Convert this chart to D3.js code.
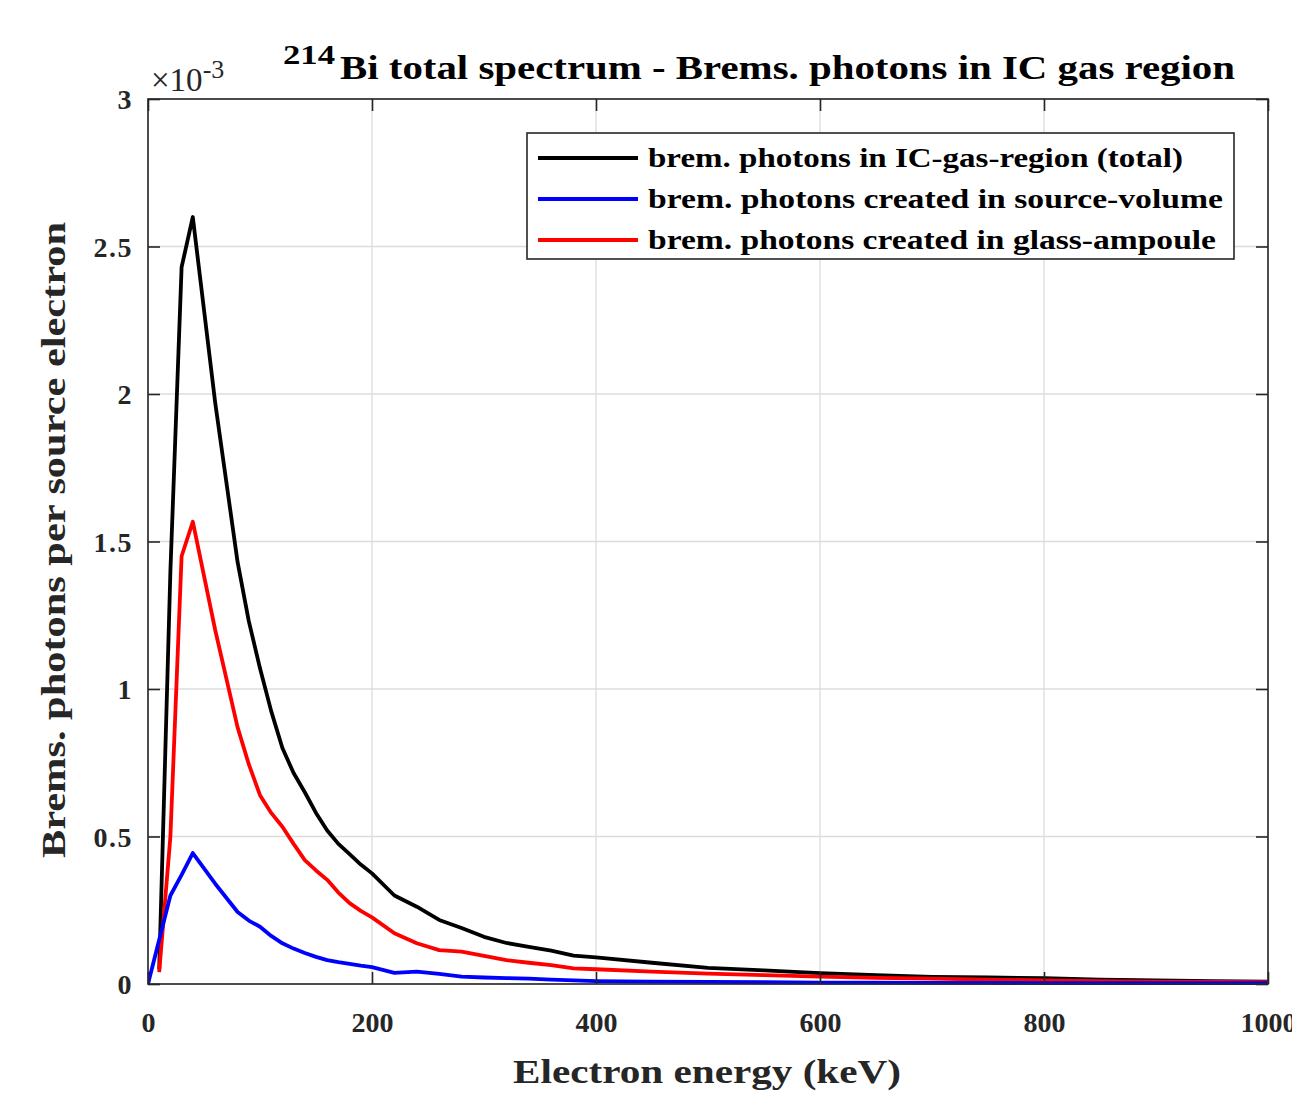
<!DOCTYPE html>
<html><head><meta charset="utf-8">
<script src="https://cdn.jsdelivr.net/npm/d3@7"></script>
<style>body{margin:0;background:#fff}svg{display:block}</style>
</head><body><svg id="c" width="1292" height="1097"></svg>
<script>
const energy = [0,10,20,30,40,60,80,90,100,110,120,130,140,150,160,170,180,190,200,220,240,260,280,300,320,340,360,380,400,450,500,550,600,650,700,750,800,850,900,950,1000];
const totalBrems = [null,0.05,1.40,2.43,2.60,1.97,1.43,1.23,1.07,0.925,0.80,0.715,0.65,0.58,0.52,0.475,0.44,0.405,0.375,0.30,0.262,0.217,0.19,0.16,0.139,0.126,0.113,0.096,0.09,0.072,0.055,0.046,0.037,0.030,0.024,0.022,0.020,0.015,0.012,0.010,0.008];
const sourceBrems = [0,0.15,0.30,0.37,0.444,0.34,0.244,0.215,0.194,0.163,0.138,0.12,0.105,0.092,0.081,0.074,0.068,0.062,0.057,0.038,0.042,0.034,0.025,0.022,0.020,0.018,0.015,0.012,0.010,0.008,0.007,0.006,0.005,0.005,0.004,0.004,0.003,0.003,0.003,0.003,0.003];
const glassBrems = [null,0.04,0.50,1.45,1.567,1.20,0.87,0.745,0.64,0.58,0.533,0.475,0.42,0.385,0.353,0.31,0.274,0.248,0.226,0.172,0.138,0.115,0.11,0.095,0.081,0.072,0.064,0.053,0.05,0.042,0.035,0.030,0.025,0.021,0.018,0.015,0.012,0.010,0.008,0.007,0.006];
const xTicks = [0,200,400,600,800,1000];
const yTicks = [0,0.5,1,1.5,2,2.5,3];
const seriesNames = ["brem. photons in IC-gas-region (total)","brem. photons created in source-volume","brem. photons created in glass-ampoule"];
const seriesColors = ["#000000","#0000ff","#ff0000"];

const L=148,R=1268,T=99,B=984;
const FONT='"Liberation Serif", serif';
const svg=d3.select("#c");
svg.append("rect").attr("width",1292).attr("height",1097).attr("fill","#fff");
const x=d3.scaleLinear().domain([0,1000]).range([L,R]);
const y=d3.scaleLinear().domain([0,3]).range([B,T]);

// grid
const g=svg.append("g");
g.selectAll(".gx").data(xTicks).join("line").attr("x1",d=>x(d)).attr("x2",d=>x(d)).attr("y1",T).attr("y2",B).attr("stroke","#dcdcdc").attr("stroke-width",1.3);
g.selectAll(".gy").data(yTicks).join("line").attr("y1",d=>y(d)).attr("y2",d=>y(d)).attr("x1",L).attr("x2",R).attr("stroke","#dcdcdc").attr("stroke-width",1.3);

// lines
const series=[totalBrems,sourceBrems,glassBrems];
svg.append("clipPath").attr("id","pc").append("rect").attr("x",L).attr("y",T).attr("width",R-L+2).attr("height",B-T+2);
const order=[0,2,1];
order.forEach(i=>{
  const data=energy.map((e,k)=>[e,series[i][k]]);
  const line=d3.line().defined(d=>d[1]!=null).x(d=>x(d[0])).y(d=>y(d[1]));
  svg.append("path").attr("d",line(data)).attr("fill","none").attr("stroke",seriesColors[i]).attr("stroke-width",3.8).attr("stroke-linejoin","round").attr("clip-path","url(#pc)");
});

// axes box and ticks
const ax="#262626";
const xb=d3.axisBottom(x).tickValues(xTicks).tickSize(-12).tickFormat(d=>d);
const xa=svg.append("g").attr("transform",`translate(0,${B})`).call(xb);
const xt=d3.axisTop(x).tickValues(xTicks).tickSize(-12).tickFormat("");
const xta=svg.append("g").attr("transform",`translate(0,${T})`).call(xt);
const yl=d3.axisLeft(y).tickValues(yTicks).tickSize(-12).tickFormat(d=>d);
const ya=svg.append("g").attr("transform",`translate(${L},0)`).call(yl);
const yr=d3.axisRight(y).tickValues(yTicks).tickSize(-12).tickFormat("");
const yra=svg.append("g").attr("transform",`translate(${R},0)`).call(yr);
[xa,xta,ya,yra].forEach(a=>{
  a.selectAll(".domain").remove();
  a.selectAll(".tick line").attr("stroke",ax).attr("stroke-width",1.6);
  a.selectAll("text").attr("fill",ax).attr("font-family",FONT).attr("font-weight","bold").attr("font-size",28);
});
svg.append("rect").attr("x",L).attr("y",T).attr("width",R-L).attr("height",B-T).attr("fill","none").attr("stroke",ax).attr("stroke-width",1.6);
xa.selectAll("text").attr("dy",null).attr("y",48);
ya.selectAll("text").attr("x",-15).attr("dy","0.35em").attr("letter-spacing",1.5);

// exponent
const ex=svg.append("text").attr("x",151).attr("y",91).attr("font-family",FONT).attr("font-size",33).attr("fill",ax);
ex.append("tspan").text("×10");
ex.append("tspan").attr("font-size",26).attr("dy",-13).text("-3");

// title
svg.append("text").attr("x",283).attr("y",64).attr("font-family",FONT).attr("font-weight","bold").attr("font-size",27).attr("fill","#000").attr("textLength",52).attr("lengthAdjust","spacingAndGlyphs").text("214");
svg.append("text").attr("x",340).attr("y",79).attr("font-family",FONT).attr("font-weight","bold").attr("font-size",33).attr("fill","#000")
  .attr("textLength",895).attr("lengthAdjust","spacingAndGlyphs").text("Bi total spectrum - Brems. photons in IC gas region");

// axis labels
svg.append("text").attr("x",707).attr("y",1083).attr("text-anchor","middle").attr("font-family",FONT).attr("font-weight","bold").attr("font-size",33).attr("fill",ax)
  .attr("textLength",388).attr("lengthAdjust","spacingAndGlyphs").text("Electron energy (keV)");
svg.append("text").attr("transform","translate(65,540) rotate(-90)").attr("text-anchor","middle").attr("font-family",FONT).attr("font-weight","bold").attr("font-size",33).attr("fill",ax)
  .attr("textLength",636).attr("lengthAdjust","spacingAndGlyphs").text("Brems. photons per source electron");

// legend
const lg=svg.append("g");
lg.append("rect").attr("x",527).attr("y",133).attr("width",707).attr("height",126).attr("fill","#fff").attr("stroke",ax).attr("stroke-width",1.6);
const lw=[535,575,568];
seriesNames.forEach((n,i)=>{
  const yy=158+i*41;
  lg.append("line").attr("x1",538).attr("x2",638).attr("y1",yy).attr("y2",yy).attr("stroke",seriesColors[i]).attr("stroke-width",3.8);
  lg.append("text").attr("x",648).attr("y",yy+9).attr("font-family",FONT).attr("font-weight","bold").attr("font-size",28).attr("fill","#000")
    .attr("textLength",lw[i]).attr("lengthAdjust","spacingAndGlyphs").text(n);
});
</script></body></html>
